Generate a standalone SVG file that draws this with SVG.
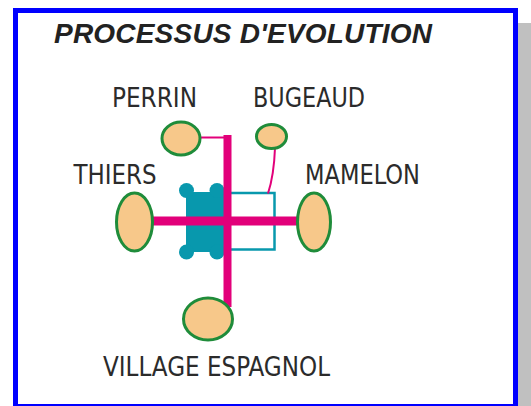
<svg xmlns="http://www.w3.org/2000/svg" width="531" height="406" viewBox="0 0 531 406">
  <style>
    .site { fill: #f7c88a; stroke: #1f8c3a; stroke-width: 3; }
    .label { font-family: "DejaVu Sans Condensed", "DejaVu Sans", sans-serif; font-stretch: condensed; font-size: 26px; fill: #2b2b2b; text-anchor: middle; }
    .title { font-family: "Liberation Sans", Arial, sans-serif; font-size: 28px; font-weight: bold; font-style: italic; fill: #222; }
    .bar { fill: #e2007a; }
    .thin { fill: none; stroke: #e2007a; stroke-width: 2; }
    .teal { fill: #0898ad; }
  </style>

  <!-- frame with drop shadow -->
  <rect x="518" y="23" width="13" height="383" fill="#c0c0c0"/>
  <rect x="15.5" y="10.5" width="500" height="396" fill="#ffffff" stroke="#0000ff" stroke-width="5"/>

  <text class="title" x="54" y="43" textLength="378" lengthAdjust="spacing">PROCESSUS D'EVOLUTION</text>

  <!-- fortified block and outline block -->
  <g id="fort">
    <rect class="teal" x="186" y="192" width="38" height="60"/>
    <circle class="teal" cx="186.5" cy="190.5" r="7.5"/>
    <circle class="teal" cx="217" cy="190.5" r="7.5"/>
    <circle class="teal" cx="186.5" cy="252" r="7.5"/>
    <circle class="teal" cx="217" cy="252" r="7.5"/>
  </g>
  <g id="enclosure">
    <rect x="229" y="193" width="45.5" height="56.5" fill="none" stroke="#0898ad" stroke-width="2.5"/>
  </g>

  <!-- connectors -->
  <g id="connectors">
    <rect class="bar" x="223.5" y="135" width="8" height="172"/>
    <rect class="bar" x="150" y="216.5" width="150" height="9"/>
    <path class="thin" d="M199,137.5 H224"/>
    <path class="thin" d="M275,148 Q274,175 268,193.5"/>
  </g>

  <g id="perrin">
    <ellipse class="site" cx="181" cy="138.5" rx="19" ry="16.5"/>
    <text class="label" x="154.5" y="107" textLength="85" lengthAdjust="spacingAndGlyphs">PERRIN</text>
  </g>
  <g id="bugeaud">
    <ellipse class="site" cx="271.5" cy="136.5" rx="15" ry="12"/>
    <text class="label" x="309" y="107" textLength="112" lengthAdjust="spacingAndGlyphs">BUGEAUD</text>
  </g>
  <g id="thiers">
    <ellipse class="site" cx="134.5" cy="222" rx="18" ry="29"/>
    <text class="label" x="115" y="184" textLength="83" lengthAdjust="spacingAndGlyphs">THIERS</text>
  </g>
  <g id="mamelon">
    <ellipse class="site" cx="314" cy="222" rx="16.5" ry="29"/>
    <text class="label" x="362.5" y="184" textLength="115" lengthAdjust="spacingAndGlyphs">MAMELON</text>
  </g>
  <g id="village-espagnol">
    <ellipse class="site" cx="208" cy="319" rx="24.5" ry="21"/>
    <text class="label" x="216.5" y="376" textLength="227" lengthAdjust="spacingAndGlyphs">VILLAGE ESPAGNOL</text>
  </g>
</svg>
